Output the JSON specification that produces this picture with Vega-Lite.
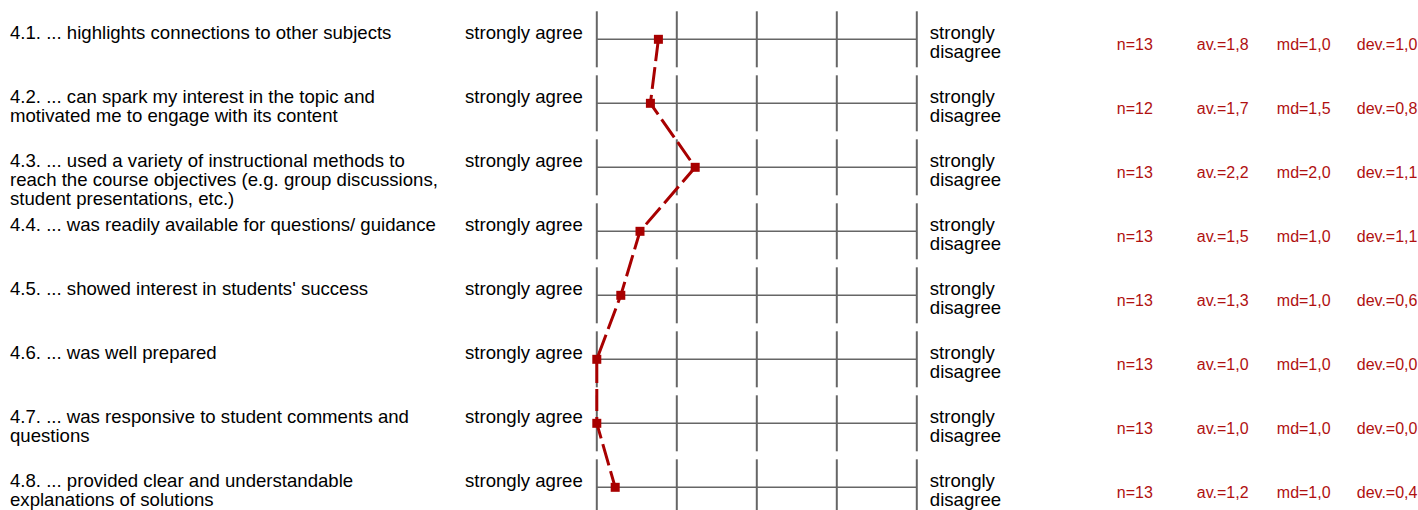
{
  "$schema": "https://vega.github.io/schema/vega-lite/v6.json",
  "width": 1418,
  "height": 510,
  "autosize": "none",
  "padding": 0,
  "background": "white",
  "config": {"view": {"stroke": null}, "text": {"font": "Liberation Sans"}},
  "data": {
    "values": [
      {"item": "4.1", "label": "4.1. ... highlights connections to other subjects", "n": 13, "av": 1.77, "md": 1.0, "dev": 1.0},
      {"item": "4.2", "label": "4.2. ... can spark my interest in the topic and\nmotivated me to engage with its content", "n": 12, "av": 1.67, "md": 1.5, "dev": 0.8},
      {"item": "4.3", "label": "4.3. ... used a variety of instructional methods to\nreach the course objectives (e.g. group discussions,\nstudent presentations, etc.)", "n": 13, "av": 2.23, "md": 2.0, "dev": 1.1},
      {"item": "4.4", "label": "4.4. ... was readily available for questions/ guidance", "n": 13, "av": 1.54, "md": 1.0, "dev": 1.1},
      {"item": "4.5", "label": "4.5. ... showed interest in students' success", "n": 13, "av": 1.3, "md": 1.0, "dev": 0.6},
      {"item": "4.6", "label": "4.6. ... was well prepared", "n": 13, "av": 1.0, "md": 1.0, "dev": 0.0},
      {"item": "4.7", "label": "4.7. ... was responsive to student comments and\nquestions", "n": 13, "av": 1.0, "md": 1.0, "dev": 0.0},
      {"item": "4.8", "label": "4.8. ... provided clear and understandable\nexplanations of solutions", "n": 13, "av": 1.23, "md": 1.0, "dev": 0.4}
    ]
  },
  "transform": [
    {"calculate": "'n=' + datum.n", "as": "nText"},
    {"calculate": "'av.=' + replace(format(datum.av, '.1f'), '.', ',')", "as": "avText"},
    {"calculate": "'md=' + replace(format(datum.md, '.1f'), '.', ',')", "as": "mdText"},
    {"calculate": "'dev.=' + replace(format(datum.dev, '.1f'), '.', ',')", "as": "devText"}
  ],
  "encoding": {
    "y": {"field": "item", "type": "ordinal", "scale": {"type": "point", "padding": 0.484375, "align": 0.634}, "axis": null}
  },
  "layer": [
    {"mark": {"type": "rule", "color": "#666666", "strokeWidth": 1.5},
     "encoding": {"x": {"datum": 1, "type": "quantitative", "scale": {"domain": [-6.46, 11.265], "nice": false, "zero": false}, "axis": null}, "x2": {"datum": 5}}},
    {"mark": {"type": "tick", "size": 56, "thickness": 2, "color": "#666666", "opacity": 1},
     "encoding": {"x": {"datum": 1, "type": "quantitative", "scale": {"domain": [-6.46, 11.265], "nice": false, "zero": false}, "axis": null}}},
    {"mark": {"type": "tick", "size": 56, "thickness": 2, "color": "#666666", "opacity": 1},
     "encoding": {"x": {"datum": 2, "type": "quantitative", "scale": {"domain": [-6.46, 11.265], "nice": false, "zero": false}, "axis": null}}},
    {"mark": {"type": "tick", "size": 56, "thickness": 2, "color": "#666666", "opacity": 1},
     "encoding": {"x": {"datum": 3, "type": "quantitative", "scale": {"domain": [-6.46, 11.265], "nice": false, "zero": false}, "axis": null}}},
    {"mark": {"type": "tick", "size": 56, "thickness": 2, "color": "#666666", "opacity": 1},
     "encoding": {"x": {"datum": 4, "type": "quantitative", "scale": {"domain": [-6.46, 11.265], "nice": false, "zero": false}, "axis": null}}},
    {"mark": {"type": "tick", "size": 56, "thickness": 2, "color": "#666666", "opacity": 1},
     "encoding": {"x": {"datum": 5, "type": "quantitative", "scale": {"domain": [-6.46, 11.265], "nice": false, "zero": false}, "axis": null}}},
    {"mark": {"type": "line", "color": "#a80000", "strokeWidth": 3, "strokeDash": [22, 6]},
     "encoding": {"x": {"field": "av", "type": "quantitative", "scale": {"domain": [-6.46, 11.265], "nice": false, "zero": false}, "axis": null}, "order": {"field": "item"}}},
    {"mark": {"type": "point", "shape": "square", "filled": true, "size": 81, "color": "#a80000", "opacity": 1},
     "encoding": {"x": {"field": "av", "type": "quantitative", "scale": {"domain": [-6.46, 11.265], "nice": false, "zero": false}, "axis": null}}},
    {"mark": {"type": "text", "align": "left", "baseline": "alphabetic", "fontSize": 18.6, "lineBreak": "\n", "lineHeight": 19, "color": "#000000"},
     "encoding": {"x": {"datum": -6.335, "type": "quantitative", "scale": {"domain": [-6.46, 11.265], "nice": false, "zero": false}, "axis": null}, "text": {"field": "label"}}},
    {"mark": {"type": "text", "align": "right", "baseline": "alphabetic", "fontSize": 18.6, "text": "strongly agree", "color": "#000000"},
     "encoding": {"x": {"datum": 0.825, "type": "quantitative", "scale": {"domain": [-6.46, 11.265], "nice": false, "zero": false}, "axis": null}}},
    {"mark": {"type": "text", "align": "left", "baseline": "alphabetic", "fontSize": 18.6, "lineHeight": 19, "text": ["strongly", "disagree"], "color": "#000000"},
     "encoding": {"x": {"datum": 5.1625, "type": "quantitative", "scale": {"domain": [-6.46, 11.265], "nice": false, "zero": false}, "axis": null}}},
    {"mark": {"type": "text", "align": "left", "baseline": "alphabetic", "fontSize": 16, "dy": 11, "color": "#b01010"},
     "encoding": {"x": {"datum": 7.5, "type": "quantitative", "scale": {"domain": [-6.46, 11.265], "nice": false, "zero": false}, "axis": null}, "text": {"field": "nText"}}},
    {"mark": {"type": "text", "align": "left", "baseline": "alphabetic", "fontSize": 16, "dy": 11, "color": "#b01010"},
     "encoding": {"x": {"datum": 8.5, "type": "quantitative", "scale": {"domain": [-6.46, 11.265], "nice": false, "zero": false}, "axis": null}, "text": {"field": "avText"}}},
    {"mark": {"type": "text", "align": "left", "baseline": "alphabetic", "fontSize": 16, "dy": 11, "color": "#b01010"},
     "encoding": {"x": {"datum": 9.5, "type": "quantitative", "scale": {"domain": [-6.46, 11.265], "nice": false, "zero": false}, "axis": null}, "text": {"field": "mdText"}}},
    {"mark": {"type": "text", "align": "left", "baseline": "alphabetic", "fontSize": 16, "dy": 11, "color": "#b01010"},
     "encoding": {"x": {"datum": 10.5, "type": "quantitative", "scale": {"domain": [-6.46, 11.265], "nice": false, "zero": false}, "axis": null}, "text": {"field": "devText"}}}
  ]
}
